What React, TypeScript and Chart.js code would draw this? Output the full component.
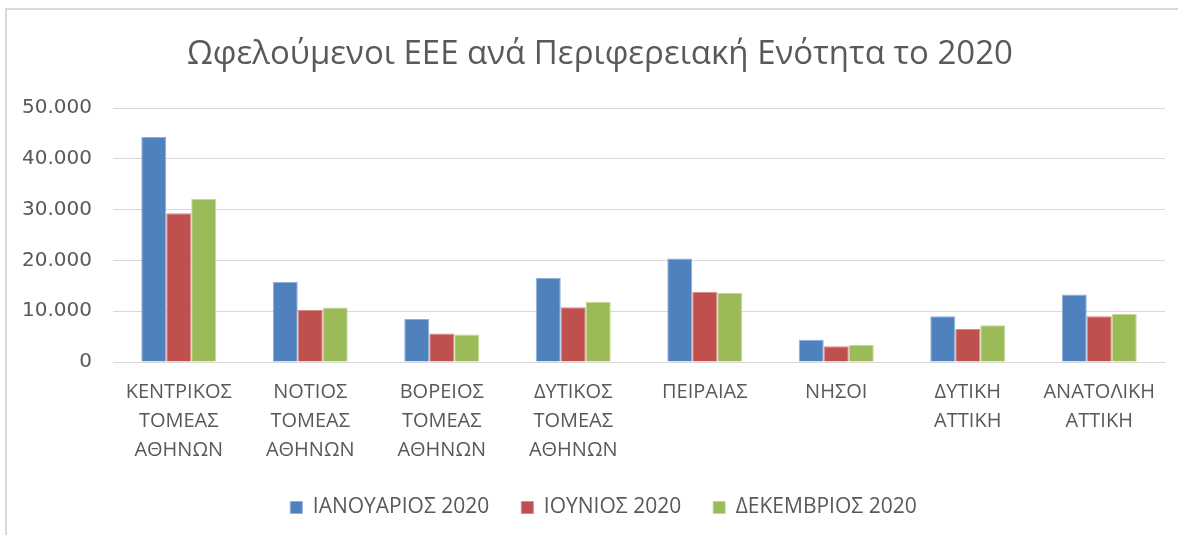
import React, { useEffect, useRef } from "react";
import { Chart, registerables } from "chart.js";

Chart.register(...registerables);

const TITLE = "Ωφελούμενοι ΕΕΕ ανά Περιφερειακή Ενότητα το 2020";
const categories: string[][] = [
  ["ΚΕΝΤΡΙΚΟΣ", "ΤΟΜΕΑΣ", "ΑΘΗΝΩΝ"],
  ["ΝΟΤΙΟΣ", "ΤΟΜΕΑΣ", "ΑΘΗΝΩΝ"],
  ["ΒΟΡΕΙΟΣ", "ΤΟΜΕΑΣ", "ΑΘΗΝΩΝ"],
  ["ΔΥΤΙΚΟΣ", "ΤΟΜΕΑΣ", "ΑΘΗΝΩΝ"],
  ["ΠΕΙΡΑΙΑΣ"],
  ["ΝΗΣΟΙ"],
  ["ΔΥΤΙΚΗ", "ΑΤΤΙΚΗ"],
  ["ΑΝΑΤΟΛΙΚΗ", "ΑΤΤΙΚΗ"],
];
const seriesNames = ["ΙΑΝΟΥΑΡΙΟΣ 2020", "ΙΟΥΝΙΟΣ 2020", "ΔΕΚΕΜΒΡΙΟΣ 2020"];
const january = [44300, 15800, 8470, 16600, 20370, 4370, 8990, 13290];
const june = [29300, 10250, 5620, 10780, 13820, 3110, 6480, 8990];
const december = [32150, 10710, 5420, 11840, 13560, 3370, 7210, 9460];
const yTicks = [0, 10000, 20000, 30000, 40000, 50000];

const colors = ["#4F81BD", "#C0504D", "#9BBB59"];
const borders = ["#8FB0DA", "#D98B89", "#C2D890"];

function fmt(v: number): string {
  const s = Math.round(v).toString();
  return s.replace(/\B(?=(\d{3})+(?!\d))/g, ".");
}

const titlePlugin = {
  id: "centeredTitle",
  beforeDraw(chart: any) {
    if (chart.legend) {
      chart.legend.left += 21;
      chart.legend.right += 21;
    }
  },
  afterDraw(chart: any) {
    const ctx = chart.ctx;
    ctx.save();
    ctx.font = "33px 'Open Sans'";
    ctx.fillStyle = "#595959";
    ctx.textAlign = "center";
    ctx.textBaseline = "middle";
    ctx.fillText(TITLE, 600, 55);
    ctx.restore();
  },
};

export default function App() {
  const ref = useRef<HTMLCanvasElement | null>(null);
  useEffect(() => {
    if (!ref.current) return;
    const values = [january, june, december];
    const chart = new Chart(ref.current, {
      type: "bar",
      data: {
        labels: categories,
        datasets: seriesNames.map((name, i) => ({
          label: name,
          data: values[i],
          backgroundColor: colors[i],
          borderColor: borders[i],
          borderWidth: 1,
          barPercentage: 1,
          categoryPercentage: 0.57,
        })),
      },
      plugins: [titlePlugin],
      options: {
        responsive: false,
        animation: false,
        layout: { padding: { left: 0, right: 13, top: 108, bottom: 7 } },
        plugins: {
          title: { display: false },
          legend: {
            position: "bottom",
            labels: {
              boxWidth: 12,
              boxHeight: 12,
              padding: 32,
              color: "#595959",
              font: { family: "Open Sans", size: 21 },
            },
          },
          tooltip: { enabled: false },
        },
        scales: {
          x: {
            afterFit: (scale: any) => {
              scale.height = 103;
            },
            grid: { display: false, drawTicks: false },
            border: { display: true, color: "#D9D9D9", width: 1 },
            ticks: {
              color: "#595959",
              font: { family: "Open Sans", size: 20, lineHeight: 1.45 },
              padding: 16,
              maxRotation: 0,
              autoSkip: false,
            },
          },
          y: {
            min: 0,
            max: 50000,
            afterBuildTicks: (scale: any) => {
              scale.ticks = yTicks.map((v) => ({ value: v }));
            },
            afterFit: (scale: any) => {
              scale.width = 113;
            },
            grid: { color: "#D9D9D9", lineWidth: 1, drawTicks: false },
            border: { display: false },
            ticks: {
              color: "#595959",
              font: { family: "DejaVu Sans", size: 20 },
              padding: 21,
              callback: (v: any) => fmt(Number(v)),
            },
          },
        },
      },
    });
    return () => chart.destroy();
  }, []);

  return (
    <div style={{ position: "absolute", left: 0, top: 0, width: 1178, height: 535, background: "#fff", overflow: "hidden" }}>
      <div
        style={{
          position: "absolute",
          left: 5,
          top: 8,
          width: 1200,
          height: 600,
          borderTop: "2px solid #D9D9D9",
          borderLeft: "2px solid #D9D9D9",
          boxSizing: "border-box",
        }}
      />
      <canvas ref={ref} width={1178} height={535} style={{ position: "absolute", left: 0, top: 0 }} />
    </div>
  );
}
